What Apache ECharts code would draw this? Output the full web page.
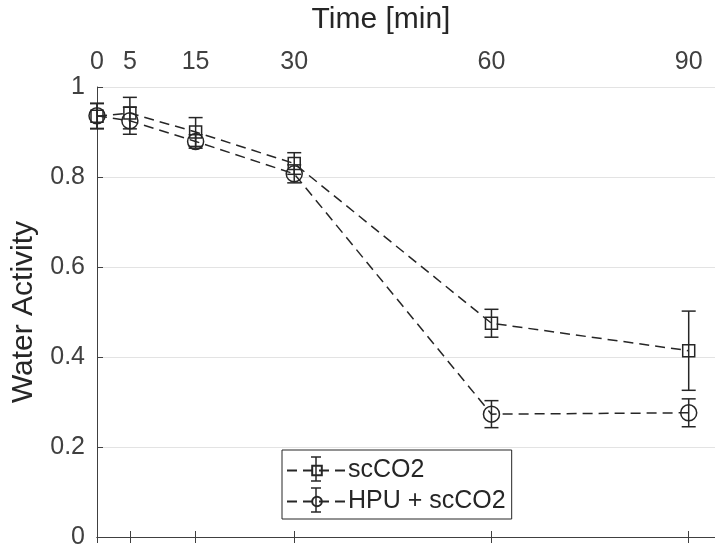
<!DOCTYPE html>
<html>
<head>
<meta charset="utf-8">
<title></title>
<script src="https://cdn.jsdelivr.net/npm/echarts@6/dist/echarts.min.js"></script>
</head>
<body style="margin:0;background:#fff;">
<div id="container" style="width:715px;height:555px;"></div>
<script type="text/javascript">
var times = [0, 5, 15, 30, 60, 90];
var scco2 = [0.935, 0.942, 0.900, 0.830, 0.475, 0.414];
var scco2Err = [0.028, 0.035, 0.032, 0.024, 0.031, 0.088];
var hpu = [0.936, 0.925, 0.879, 0.807, 0.273, 0.276];
var hpuErr = [0.028, 0.030, 0.015, 0.020, 0.030, 0.031];
var yTicks = [0, 0.2, 0.4, 0.6, 0.8, 1];

var ink = '#262626';
var font = 'Liberation Sans, Arial, sans-serif';

function pts(ys){
	var out = [];
	for (var i = 0; i < times.length; i++) out.push([times[i], ys[i]]);
	return out;
}
function errs(ys, es){
	var out = [];
	for (var i = 0; i < times.length; i++) out.push([times[i], ys[i] - es[i], ys[i] + es[i]]);
	return out;
}
// error bar: vertical line with caps
function errRender(params, api){
	var lo = api.coord([api.value(0), api.value(1)]);
	var hi = api.coord([api.value(0), api.value(2)]);
	var w = 7;
	var st = {stroke: ink, lineWidth: 1.5};
	return {
		type: 'group',
		children: [
			{type: 'line', shape: {x1: lo[0], y1: lo[1], x2: hi[0], y2: hi[1]}, style: st},
			{type: 'line', shape: {x1: lo[0] - w, y1: lo[1], x2: lo[0] + w, y2: lo[1]}, style: st},
			{type: 'line', shape: {x1: hi[0] - w, y1: hi[1], x2: hi[0] + w, y2: hi[1]}, style: st}
		]
	};
}
// little error-bar glyph drawn over a legend icon
function legendBar(cx, cy){
	var st = {stroke: ink, lineWidth: 1.5};
	return [
		{type: 'line', z: 100, shape: {x1: cx, y1: cy - 12, x2: cx, y2: cy + 12}, style: st},
		{type: 'line', z: 100, shape: {x1: cx - 5, y1: cy - 12, x2: cx + 5, y2: cy - 12}, style: st},
		{type: 'line', z: 100, shape: {x1: cx - 5, y1: cy + 12, x2: cx + 5, y2: cy + 12}, style: st}
	];
}

var myChart = echarts.init(document.getElementById('container'));
var option = {
	backgroundColor: '#fff',
	animation: false,
	textStyle: {fontFamily: font},
	grid: {left: 97, right: 0, top: 86, bottom: 18},
	legend: {
		orient: 'vertical',
		left: 282, top: 450,
		padding: [8, 6, 5, 4],
		itemGap: 6,
		itemWidth: 60,
		itemHeight: 12,
		backgroundColor: '#fff',
		borderColor: ink,
		borderWidth: 1,
		borderRadius: 0,
		textStyle: {fontFamily: font, fontSize: 25, color: '#262626', padding: [0, 0, 0, -4]},
		data: ['scCO2', 'HPU + scCO2']
	},
	graphic: legendBar(316, 469).concat(legendBar(316, 500)),
	xAxis: [{
		type: 'value',
		position: 'top',
		min: 0, max: 94,
		name: 'Time [min]',
		nameLocation: 'middle',
		nameGap: 52,
		nameTextStyle: {fontFamily: font, fontSize: 30, color: '#262626', padding: [0, 50, 0, 0]},
		axisLine: {lineStyle: {color: '#404040'}},
		axisTick: {inside: true, length: 6, customValues: times, lineStyle: {color: '#404040'}},
		axisLabel: {customValues: times, fontSize: 25, color: '#404040', margin: 12, fontFamily: font},
		splitLine: {show: false}
	}, {
		type: 'value',
		position: 'bottom',
		min: 0, max: 94,
		axisLine: {lineStyle: {color: '#404040'}},
		axisTick: {inside: true, length: 6, customValues: times, lineStyle: {color: '#404040'}},
		axisLabel: {show: false},
		splitLine: {show: false}
	}],
	yAxis: {
		type: 'value',
		min: 0, max: 1, interval: 0.2,
		name: 'Water Activity',
		nameLocation: 'middle',
		nameGap: 58,
		nameTextStyle: {fontFamily: font, fontSize: 30, color: '#262626'},
		axisLine: {show: true, lineStyle: {color: '#404040'}},
		axisTick: {show: true, inside: true, length: 6, lineStyle: {color: '#404040'}},
		axisLabel: {fontSize: 25, color: '#404040', margin: 12, fontFamily: font,
			customValues: yTicks},
		splitLine: {show: true, lineStyle: {color: '#e3e3e3'}}
	},
	series: [{
		name: 'scCO2',
		type: 'line',
		data: pts(scco2),
		symbol: 'rect',
		symbolSize: 12,
		lineStyle: {color: ink, width: 1.5, type: [10, 6]},
		itemStyle: {color: 'rgba(0,0,0,0)', borderColor: ink, borderWidth: 1.5},
		z: 3
	}, {
		name: 'HPU + scCO2',
		type: 'line',
		data: pts(hpu),
		symbol: 'circle',
		symbolSize: 16,
		lineStyle: {color: ink, width: 1.5, type: [10, 6]},
		itemStyle: {color: 'rgba(0,0,0,0)', borderColor: ink, borderWidth: 1.5},
		z: 3
	}, {
		type: 'custom',
		renderItem: errRender,
		data: errs(scco2, scco2Err),
		encode: {x: 0, y: [1, 2]},
		z: 4
	}, {
		type: 'custom',
		renderItem: errRender,
		data: errs(hpu, hpuErr),
		encode: {x: 0, y: [1, 2]},
		z: 4
	}]
};
myChart.setOption(option);
</script>
</body>
</html>
